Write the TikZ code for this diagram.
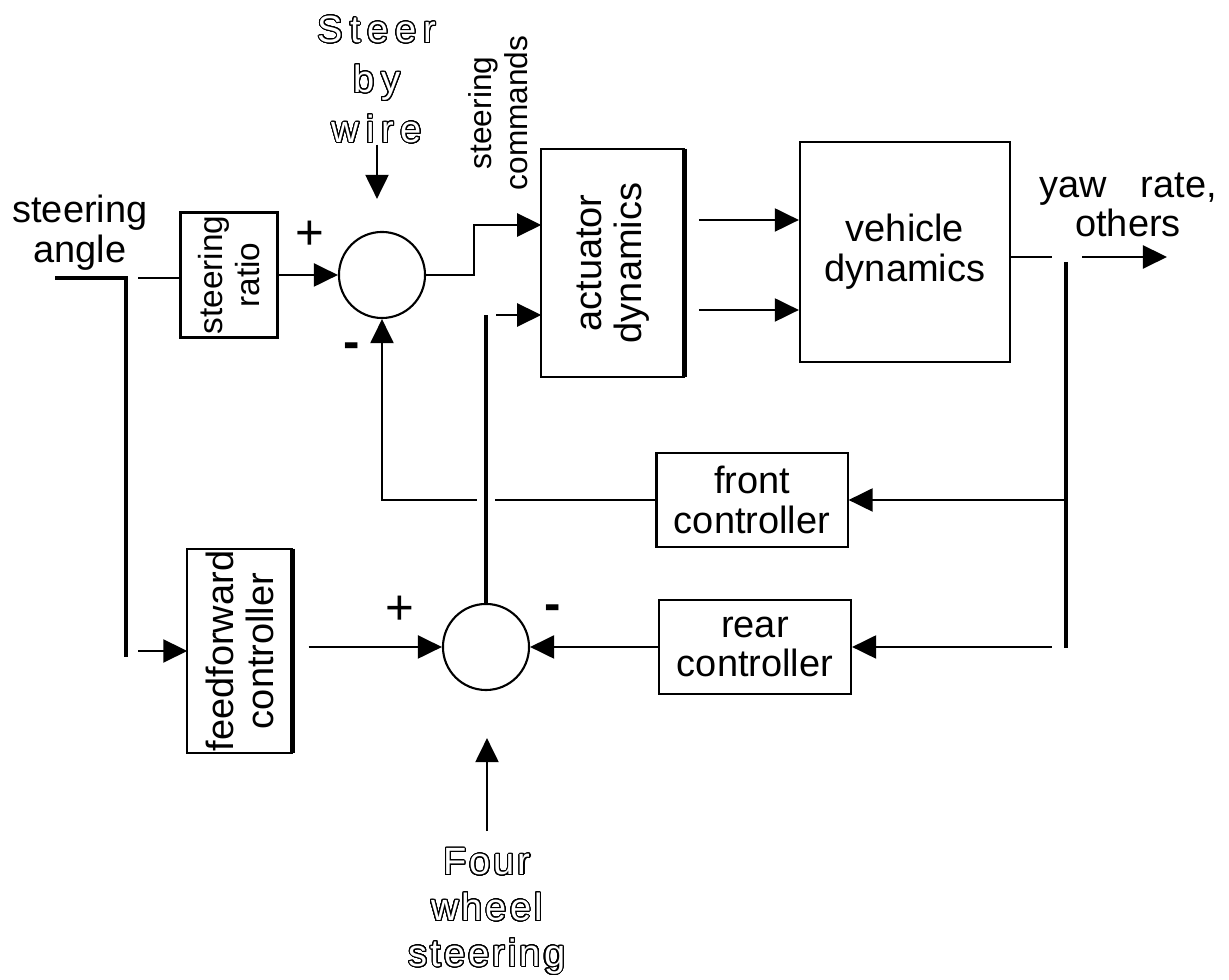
\documentclass[tikz,border=0pt]{standalone}
\usepackage{fontspec}
\setmainfont{Liberation Sans}
\usepackage{tikz}
\usetikzlibrary{arrows.meta, calc}
\usepackage{contour}
\newfontfamily\hollowwide[LetterSpace=18]{Liberation Sans}
\newfontfamily\hollownarrow[LetterSpace=8]{Liberation Sans}
\contourlength{0.3pt}
\contournumber{32}
\newcommand{\hollow}[1]{\contour{black}{\textcolor{white}{#1}}}
\newcommand{\blockfont}{\fontsize{10.8}{11.3}\selectfont}
\tikzset{
    block/.style={rectangle, draw, line width=0.6pt, inner sep=0pt, align=center},
    openblock/.style={rectangle, inner sep=0pt},
    sumnode/.style={circle, draw, line width=0.6pt, minimum size=0.86cm, inner sep=0pt},
    vtext/.style={rotate=90, align=center, inner sep=0pt},
    hollowtext/.style={align=center, inner sep=0pt},
    sign/.style={inner sep=0pt, font=\fontsize{14}{14}\selectfont},
    conn/.style={line width=0.6pt},
    heavy/.style={line width=1.4pt},
    arrow/.style={line width=0.6pt, -{Triangle[length=2.4mm, width=2.3mm]}}
}

\begin{document}
\begin{tikzpicture}[x=0.01cm, y=-0.01cm, font=\blockfont]
    \useasboundingbox (0,0) rectangle (1229,980);

    % blocks
    \node[block, minimum width=0.97cm, minimum height=1.25cm] (ratio) at (229,275) {};
    \node[vtext, font=\fontsize{9.5}{10.5}\selectfont] (ratiotext) at (ratio) {steering\\ratio};
    \node[sumnode] (sum1) at (382,275) {};
    \node[openblock, minimum width=1.42cm, minimum height=2.27cm] (act) at (613,263) {};
    \node[vtext] (acttext) at (act) {actuator\\dynamics};
    \node[block, minimum width=2.10cm, minimum height=2.20cm] (veh) at (905,252) {vehicle\\dynamics};
    \node[block, minimum width=1.91cm, minimum height=0.94cm] (front) at (752,500) {front\\controller};
    \node[block, minimum width=1.92cm, minimum height=0.94cm] (rear) at (755,647) {rear\\controller};
    \node[sumnode] (sum2) at (486,647) {};
    \node[openblock, minimum width=1.04cm, minimum height=2.03cm] (ff) at (240,651) {};
    \node[vtext] (fftext) at (ff) {feedforward\\controller};

    % labels
    \node[align=center, inner sep=0pt] (angle) at (80,233) {steering\\angle};
    \node[hollowtext, font=\hollowwide\fontsize{10.8}{14.2}\selectfont] (sbw) at (377,80) {\hollow{Steer}\\\hollow{by}\\\hollow{wire}};
    \node[hollowtext, font=\hollownarrow\fontsize{10.8}{13}\selectfont] (fws) at (487,912) {\hollow{Four}\\\hollow{wheel}\\\hollow{steering}};
    \node[vtext, font=\fontsize{9}{10.2}\selectfont] (cmdtext) at (498,113) {steering\\commands};
    \node[align=center, inner sep=0pt] (yaw) at (1128,205) {yaw\hspace{0.9em}rate,\\others};
    \node[sign] (plus1) at (310,235) {+};
    \node[sign] (minus1) at (352,351) {\textbf{-}};
    \node[sign] (plus2) at (400,610) {+};
    \node[sign] (minus2) at (553,613) {\textbf{-}};

    % open sides and bars
    \draw[conn] (act.north east) -- (act.north west) -- (act.south west) -- (act.south east);
    \draw[heavy] (act.north east) -- (act.south east);
    \draw[conn] (ff.north east) -- (ff.north west) -- (ff.south west) -- (ff.south east);
    \draw[heavy] (ff.north east) -- (ff.south east);

    \coordinate (in) at (55,278);
    \coordinate (split1) at (126,278);
    \coordinate (split1b) at (126,657);
    \coordinate (split2) at (1066,262);
    \coordinate (split2b) at (1066,648);
    \coordinate (cmd1) at ($(act.west)+(0,-38)$);
    \coordinate (cmd2) at ($(act.west)+(0,52)$);
    \coordinate (act1) at ($(act.east)+(0,-43)$);
    \coordinate (act2) at ($(act.east)+(0,47)$);
    \coordinate (vout) at ($(veh.east)+(0,5)$);
    \coordinate (yout) at (1167,257);

    \draw[heavy] (in) -- (split1) -- (split1b);
    \draw[conn, shorten <=1.2mm] (split1) -- (split1 -| ratio.west);
    \draw[arrow] (ratio.east) -- (sum1.west);
    \draw[arrow, shorten >=3.2mm] (sbw.south) -- (sbw.south |- sum1.north);
    \draw[arrow] (sum1.east) -- ++(48,0) |- (cmd1);
    \draw[arrow] (front.west) -| (sum1.south);
    \draw[heavy, preaction={draw=white, line width=5pt}] (sum2.north) -- (sum2.north |- cmd2);
    \draw[arrow, shorten <=1mm] (sum2.north |- cmd2) -- (cmd2);
    \draw[arrow, shorten <=1.4mm] (act1) -- (act1 -| veh.west);
    \draw[arrow, shorten <=1.4mm] (act2) -- (act2 -| veh.west);
    \draw[conn, shorten >=1.4mm] (vout) -- (vout -| split2);
    \draw[arrow, shorten <=1.6mm] (vout -| split2) -- (yout);
    \draw[heavy] (split2) -- (split2b);
    \draw[arrow] (split2 |- front.east) -- (front.east);
    \draw[arrow, shorten <=1.4mm] (split2 |- rear.east) -- (rear.east);
    \draw[arrow] (rear.west) -- (sum2.east);
    \draw[arrow, shorten <=1.2mm] (split1b |- ff.west) -- (ff.west);
    \draw[arrow, shorten <=1.6mm] (ff.east |- sum2.west) -- (sum2.west);
    \draw[arrow, shorten >=4.7mm] ([yshift=1.7mm]fws.north) -- (fws.north |- sum2.south);
\end{tikzpicture}
\end{document}
